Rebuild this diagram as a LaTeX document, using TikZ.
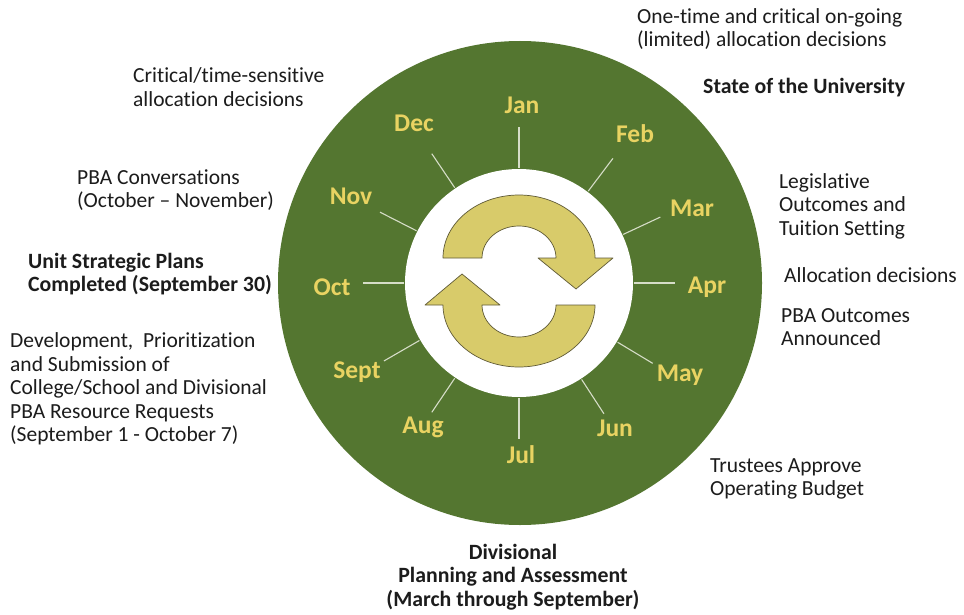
\documentclass[tikz,border=0pt]{standalone}
\usepackage{fontspec}
\setmainfont{Carlito}[Ligatures={NoCommon}]
\definecolor{ringgreen}{RGB}{84,118,48}
\definecolor{monthyellow}{RGB}{233,211,98}
\definecolor{arrowfill}{RGB}{216,203,106}
\definecolor{arrowline}{RGB}{95,90,55}
\definecolor{tickline}{RGB}{214,221,200}
\definecolor{txt}{RGB}{28,28,28}
\begin{document}
\begin{tikzpicture}[x=1pt,y=-1pt,
  month/.style={font=\bfseries\fontsize{25.5}{30}\selectfont, text=monthyellow, inner sep=0pt},
  label/.style={font=\fontsize{21.5}{23.5}\selectfont, text=txt, inner sep=0pt, align=left, anchor=west},
  boldlabel/.style={label, font=\bfseries\fontsize{21.8}{23.5}\selectfont},
  tickmark/.style={draw=tickline, line width=1.1pt},
  arrowshape/.style={fill=arrowfill, draw=arrowline, line width=0.7pt, line join=round}]
\useasboundingbox (0,0) rectangle (964,615);
\fill[white] (0,0) rectangle (964,615);
% rings
\node[circle, fill=ringgreen, minimum size=484pt, inner sep=0pt] (ring) at (520,283) {};
\node[circle, fill=white, minimum size=228pt, inner sep=0pt] (hub) at (519,283) {};
% ticks
\foreach \a in {90,53,25,0,-31,-57,-90,-124,-150,180,153,124}
  \draw[tickmark, shift={(519,283)}] ({-\a}:115) -- ({-\a}:156);
% cycle arrows
\draw[arrowshape] (443,258) arc[start angle=180,end angle=360,x radius=76,y radius=63]
  -- (613,258) -- (576,289) -- (538,258) -- (556,258)
  arc[start angle=360,end angle=180,x radius=37,y radius=32] -- cycle;
\draw[arrowshape] (595,305) arc[start angle=0,end angle=180,x radius=76,y radius=62]
  -- (425,305) -- (462,274) -- (500,305) -- (482,305)
  arc[start angle=180,end angle=0,x radius=37,y radius=32] -- cycle;
% months
\node[month] (jan) at (522,105) {Jan};
\node[month] (feb) at (635,134) {Feb};
\node[month] (mar) at (692,208) {Mar};
\node[month] (apr) at (707,287) {Apr};
\node[month] (may) at (680,375) {May};
\node[month] (jun) at (615,428) {Jun};
\node[month] (jul) at (521,455) {Jul};
\node[month] (aug) at (423,427) {Aug};
\node[month] (sep) at (357,372) {Sept};
\node[month] (oct) at (332,287) {Oct};
\node[month] (nov) at (351,196) {Nov};
\node[month] (dec) at (414,123) {Dec};
% labels
\node[label] (onetime) at (637,29) {One-time and critical on-going\\(limited) allocation decisions};
\node[boldlabel] (state) at (703,88) {State of the University};
\node[label] (critical) at (133,87) {Critical/time-sensitive\\allocation decisions};
\node[label] (conv) at (77,190) {PBA Conversations\\(October -- November)};
\node[boldlabel] (usp) at (28,274) {Unit Strategic Plans\\Completed (September 30)};
\node[label] (dev) at (10,389) {Development,\ \ Prioritization\\and Submission of\\College/School and Divisional\\PBA Resource Requests\\(September 1 - October 7)};
\node[label] (legis) at (779,206) {Legislative\\Outcomes and\\Tuition Setting};
\node[label] (alloc) at (784,275) {Allocation decisions};
\node[label] (pbaout) at (781,327) {PBA Outcomes\\Announced};
\node[label] (trust) at (710,479) {Trustees Approve\\Operating Budget};
\node[boldlabel, align=center, anchor=center] (divis) at (513,577) {Divisional\\Planning and Assessment\\(March through September)};
\end{tikzpicture}
\end{document}
